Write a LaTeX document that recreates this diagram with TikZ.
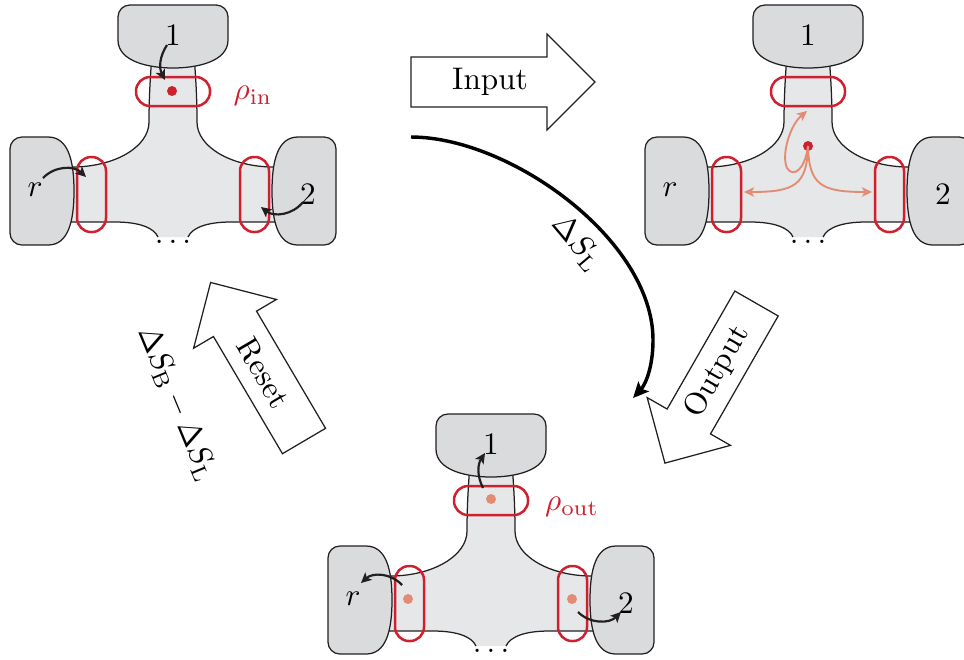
\documentclass[tikz,border=0pt]{standalone}
\usetikzlibrary{arrows.meta}

\definecolor{rim}{RGB}{35,31,32}
\definecolor{bodygray}{RGB}{230,231,232}
\definecolor{blobgray}{RGB}{218,219,221}
\definecolor{portred}{RGB}{206,32,46}
\definecolor{salmon}{RGB}{226,140,115}

\tikzset{
  px/.style={x=0.32pt,y=-0.32pt},
  edge/.style={draw=rim, line width=0.4pt},
  blob/.style={fill=blobgray, draw=rim, line width=0.4pt},
  port/.style={draw=portred, line width=0.8pt, rounded corners=4.5pt},
  flow/.style={draw=rim, line width=0.7pt, -{Stealth[length=3.3pt,width=3.2pt,inset=0.8pt]}},
  spread/.style={draw=salmon, line width=0.6pt, -{Stealth[length=3.2pt,width=3pt,inset=0.8pt]}},
  dotmark/.style={circle, inner sep=0pt, minimum size=3.2pt, fill=#1},
  bigarr/.style={draw=rim, fill=white, line width=0.4pt, line join=miter},
  entropy/.style={draw=black, line width=1.1pt, -{Stealth[length=5pt,width=4.6pt,inset=1pt]}},
}

% one three-terminal device: channel, terminals, ports and terminal labels
\newcommand\drawunit{%
  \fill[bodygray] (152,55) .. controls (150,80) and (149,100) .. (149,122)
     .. controls (149,147) and (114.5,167) .. (72,167) -- (55,167) -- (55,222) -- (115,222)
     .. controls (140,222) and (154,228) .. (158,237) -- (188,237)
     .. controls (192,228) and (206,222) .. (231,222) -- (291,222) -- (291,167) -- (274,167)
     .. controls (231.5,167) and (197,147) .. (197,122)
     .. controls (197,100) and (196,80) .. (194,55) -- cycle;
  \draw[edge] (152,55) .. controls (150,80) and (149,100) .. (149,122)
     .. controls (149,147) and (114.5,167) .. (72,167) -- (55,167);
  \draw[edge] (194,55) .. controls (196,80) and (197,100) .. (197,122)
     .. controls (197,147) and (231.5,167) .. (274,167) -- (291,167);
  \draw[edge] (55,222) -- (115,222) .. controls (140,222) and (154,228) .. (158,237);
  \draw[edge] (291,222) -- (231,222) .. controls (206,222) and (192,228) .. (188,237);
  % terminals
  \path[blob] (118,40) [rounded corners=3.8pt] -- (118,5) -- (228,5) [sharp corners] -- (228,40)
     .. controls (228,62) and (196,68) .. (173,68) .. controls (150,68) and (118,62) .. cycle;
  \path[blob] (48,137) [rounded corners=3.8pt] -- (10,137) -- (10,245) [sharp corners] -- (48,245)
     .. controls (68,245) and (74,222) .. (74,191) .. controls (74,160) and (68,137) .. cycle;
  \path[blob] (298,137) [rounded corners=3.8pt] -- (336,137) -- (336,245) [sharp corners] -- (298,245)
     .. controls (278,245) and (272,222) .. (272,191) .. controls (272,160) and (278,137) .. cycle;
  % ports
  \draw[port] (136,77) rectangle (210,106);
  \draw[port] (77,157) rectangle (106,232);
  \draw[port] (240,157) rectangle (269,232);
  % labels
  \node (one) at (173,35) {1};
  \node (r) at (35,190) {$r$};
  \node (two) at (308,194) {2};
  \node[inner sep=0pt, anchor=base] (more) at (173,243) {$\dots$};
}

% hollow block arrow: name, tail point, direction, text, text angle
\newcommand\blockarrow[5]{%
  \begin{scope}[shift={#2}, rotate=#3]
    \draw[bigarr] (0,25) -- (136,25) -- (136,48) -- (184,0) -- (136,-48) -- (136,-25) -- (0,-25) -- cycle;
    \node[rotate=#5] (#1) at (79,0) {#4};
  \end{scope}}

\begin{document}
\begin{tikzpicture}[px]
\useasboundingbox (0,0) rectangle (964,659);

% ---- input state ----
\begin{scope}[name prefix=in-]
  \drawunit
  \node[dotmark=portred] (q) at (172,91) {};
  \node[text=portred] (rho) at (253,96) {$\rho_{\mathrm{in}}$};
  \coordinate (a1) at (167,45);  \coordinate (b1) at (165,80);
  \coordinate (a2) at (43,178);  \coordinate (b2) at (86,177);
  \coordinate (a3) at (303,202); \coordinate (b3) at (261,207);
  \draw[flow] (a1) to[bend right=30] (b1);
  \draw[flow] (a2) to[bend left=45] (b2);
  \draw[flow] (a3) to[bend left=45] (b3);
\end{scope}

% ---- spreading inside the device ----
\begin{scope}[shift={(635,0)}, name prefix=mid-]
  \drawunit
  \node[dotmark=portred] (q) at (173,146) {};
  \coordinate (t1) at (172,111);
  \coordinate (t2) at (109,192);
  \coordinate (t3) at (237,192);
  \draw[spread] (q.center) .. controls (170,170) and (158,178) .. (152,168)
     .. controls (146,155) and (155,125) .. (t1);
  \draw[spread] (q.center) .. controls (172,185) and (160,192) .. (t2);
  \draw[spread] (q.center) .. controls (174,185) and (186,192) .. (t3);
\end{scope}

% ---- output state ----
\begin{scope}[shift={(318,409)}, name prefix=out-]
  \drawunit
  \node[dotmark=salmon] (q1) at (173,90) {};
  \node[dotmark=salmon] (q2) at (90,190) {};
  \node[dotmark=salmon] (q3) at (254,190) {};
  \node[text=portred] (rho) at (254,98) {$\rho_{\mathrm{out}}$};
  \coordinate (a1) at (165,79);  \coordinate (b1) at (167,44);
  \coordinate (a2) at (84,176);  \coordinate (b2) at (43,174);
  \coordinate (a3) at (260,203); \coordinate (b3) at (303,203);
  \draw[flow] (a1) to[bend left=30] (b1);
  \draw[flow] (a2) to[bend right=45] (b2);
  \draw[flow] (a3) to[bend right=45] (b3);
\end{scope}

% ---- cycle steps ----
\blockarrow{input}{(411,82)}{0}{Input}{0}
\blockarrow{output}{(756.5,303.5)}{-119.85}{Output}{60.15}
\blockarrow{reset}{(304,441)}{120.5}{Reset}{-59.5}

\coordinate (sl-start) at (411,137);
\coordinate (sl-end) at (633,398);
\draw[entropy] (sl-start) .. controls (510,137) and (653,240) .. (653,340)
   .. controls (653,368) and (645,385) .. (sl-end);
\node[rotate=-50] (dsl) at (577,243) {$\Delta S_{\mathrm{L}}$};
\node[rotate=-67.5] (dsbl) at (177,404) {$\Delta S_{\mathrm{B}} - \Delta S_{\mathrm{L}}$};
\end{tikzpicture}
\end{document}
